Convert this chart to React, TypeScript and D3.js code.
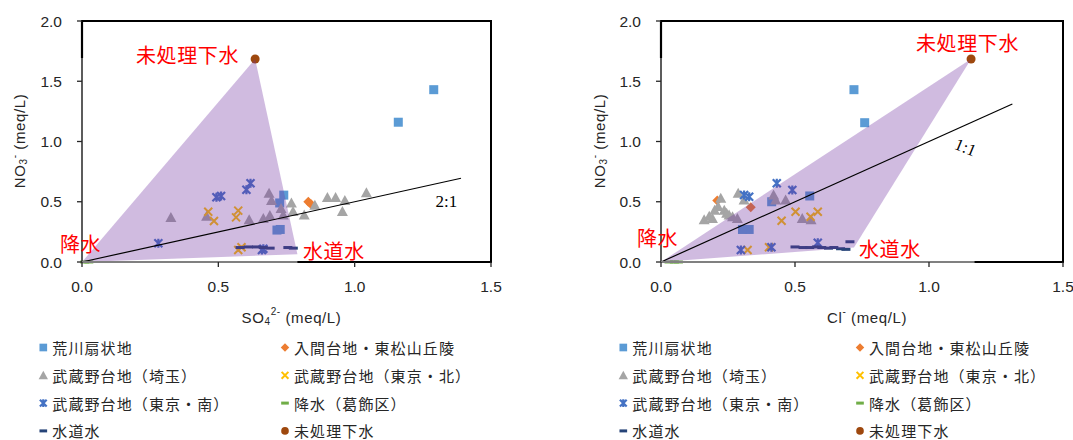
import React from "react";
import * as d3 from "d3";

// ---------- data ----------
const xTicks = [0, 0.5, 1.0, 1.5];
const yTicks = [0, 0.5, 1.0, 1.5, 2.0];

// [x, NO3] pairs; SO4 chart and Cl chart
const arakawaSO4 = [[1.29, 1.43], [1.16, 1.16], [0.74, 0.555], [0.725, 0.49], [0.727, 0.27], [0.715, 0.265]];
const arakawaCl = [[0.72, 1.43], [0.76, 1.156], [0.555, 0.548], [0.413, 0.5], [0.329, 0.27], [0.304, 0.27]];

const irumaSO4 = [[0.83, 0.5], [0.84, 0.48]];
const irumaCl = [[0.335, 0.455], [0.21, 0.51]];

const saitamaSO4 = [[0.326, 0.37], [0.457, 0.38], [0.613, 0.35], [0.665, 0.36], [0.689, 0.385], [0.686, 0.57], [0.695, 0.51], [0.73, 0.445], [0.738, 0.39], [0.768, 0.49], [0.774, 0.42], [0.815, 0.39], [0.854, 0.47], [0.9, 0.535], [0.93, 0.535], [0.964, 0.51], [0.955, 0.42], [1.043, 0.575]];
const saitamaCl = [[0.161, 0.35], [0.192, 0.36], [0.223, 0.53], [0.213, 0.46], [0.236, 0.43], [0.254, 0.39], [0.267, 0.376], [0.285, 0.36], [0.288, 0.57], [0.31, 0.515], [0.42, 0.556], [0.428, 0.515], [0.465, 0.515], [0.527, 0.36], [0.56, 0.35], [0.2, 0.43], [0.245, 0.405], [0.18, 0.38]];

const northSO4 = [[0.463, 0.417], [0.484, 0.34], [0.573, 0.426], [0.565, 0.37], [0.573, 0.1], [0.585, 0.122]];
const northCl = [[0.323, 0.1], [0.403, 0.122], [0.45, 0.343], [0.502, 0.417], [0.558, 0.376], [0.585, 0.417]];

const southSO4 = [[0.28, 0.155], [0.493, 0.538], [0.51, 0.548], [0.603, 0.6], [0.618, 0.653], [0.66, 0.1], [0.665, 0.11]];
const southCl = [[0.432, 0.653], [0.49, 0.598], [0.31, 0.556], [0.329, 0.542], [0.298, 0.1], [0.412, 0.122], [0.585, 0.16]];

const rainSO4 = [[0.01, 0.0], [0.025, 0.0]];
const rainCl = [[0.03, 0.0], [0.05, 0.0], [0.065, 0.0]];

const tapSO4 = [[0.58, 0.12], [0.61, 0.125], [0.64, 0.125], [0.665, 0.12], [0.69, 0.115], [0.755, 0.12], [0.775, 0.115]];
const tapCl = [[0.5, 0.125], [0.53, 0.12], [0.555, 0.12], [0.58, 0.125], [0.6, 0.12], [0.625, 0.115], [0.645, 0.12], [0.67, 0.11], [0.69, 0.105], [0.705, 0.168]];

const sewageSO4 = [[0.635, 1.685]];
const sewageCl = [[1.157, 1.685]];

const mixSO4 = [[0, 0], [0.635, 1.685], [0.79, 0.065]];
const mixCl = [[0, 0], [1.157, 1.685], [0.72, 0.12]];

const ratioLineSO4 = [[0, 0], [1.39, 0.695]];
const ratioLineCl = [[0, 0], [1.311, 1.311]];

const seriesNames = ["荒川扇状地", "入間台地・東松山丘陵", "武蔵野台地（埼玉）", "武蔵野台地（東京・北）", "武蔵野台地（東京・南）", "降水（葛飾区）", "水道水", "未処理下水"];
const seriesColors = ["#5b9bd5", "#ed7d31", "#a5a5a5", "#ffc000", "#4472c4", "#70ad47", "#264478", "#9e480e"];
const seriesShapes = ["square", "diamond", "triangle", "x", "star", "dash", "dash", "circle"];

const CJK = "'Noto Sans CJK JP', 'Noto Sans', sans-serif";
const SANS = "'Liberation Sans', Arial, sans-serif";

function Marker({ shape, color, x, y, s = 1 }: any) {
  switch (shape) {
    case "square":
      return <rect x={x - 4.5 * s} y={y - 4.5 * s} width={9 * s} height={9 * s} fill={color} />;
    case "diamond":
      return <path d={`M${x},${y - 5 * s}L${x + 5 * s},${y}L${x},${y + 5 * s}L${x - 5 * s},${y}Z`} fill={color} />;
    case "triangle":
      return <path d={`M${x},${y - 5.5 * s}L${x + 5.5 * s},${y + 4.5 * s}L${x - 5.5 * s},${y + 4.5 * s}Z`} fill={color} />;
    case "x":
      return <path d={`M${x - 4 * s},${y - 4 * s}L${x + 4 * s},${y + 4 * s}M${x + 4 * s},${y - 4 * s}L${x - 4 * s},${y + 4 * s}`} stroke={color} strokeWidth={2} fill="none" />;
    case "star":
      return <path d={`M${x - 4 * s},${y - 4 * s}L${x + 4 * s},${y + 4 * s}M${x + 4 * s},${y - 4 * s}L${x - 4 * s},${y + 4 * s}M${x},${y - 4.5 * s}L${x},${y + 4.5 * s}`} stroke={color} strokeWidth={2.2} fill="none" />;
    case "dash":
      return <rect x={x - 4.5 * s} y={y - 1.5} width={9 * s} height={3} fill={color} />;
    case "circle":
      return <circle cx={x} cy={y} r={4.5 * s} fill={color} />;
  }
  return null;
}

function Panel({ x0, x1, series, mix, ratioLine, ratioLabel, ratioPos, ratioRot, labels, blackBottomFrom, xTitle, yTitleX, legendX }: any) {
  const xs = d3.scaleLinear().domain([0, 1.5]).range([x0, x1]);
  const ys = d3.scaleLinear().domain([0, 2]).range([262, 21]);
  const line = d3.line().x((d: any) => xs(d[0])).y((d: any) => ys(d[1]));
  const poly = line(mix) + "Z";
  return (
    <g>
      {/* points */}
      {series.map((pts: any, i: number) =>
        pts.map((p: any, j: number) => (
          <Marker key={i + "-" + j} shape={seriesShapes[i]} color={seriesColors[i]} x={xs(p[0])} y={ys(p[1])} />
        ))
      )}
      {/* mixing polygon */}
      <path d={poly} fill="#7030a0" fillOpacity={0.33} />
      {/* ratio line */}
      <path d={line(ratioLine) as string} stroke="#000" strokeWidth={1.2} fill="none" />
      <text x={xs(ratioPos[0])} y={ys(ratioPos[1])} fontFamily="'Liberation Serif', 'Times New Roman', serif" fontSize={17} textAnchor="middle" dominantBaseline="central" transform={`rotate(${ratioRot},${xs(ratioPos[0])},${ys(ratioPos[1])})`}>{ratioLabel}</text>
      {/* axes */}
      <line x1={x0} x2={x0} y1={21} y2={262} stroke="#262626" strokeWidth={1.5} />
      <line x1={x0} x2={x0} y1={21} y2={58} stroke="#000" strokeWidth={2.2} />
      <line x1={x0} x2={x1} y1={262} y2={262} stroke="#808080" strokeWidth={2} />
      <line x1={xs(blackBottomFrom)} x2={x1 + 1} y1={262} y2={262} stroke="#000" strokeWidth={2} />
      <line x1={x0 - 1} x2={x1 + 1} y1={21} y2={21} stroke="#000" strokeWidth={2} />
      <line x1={x1} x2={x1} y1={21} y2={262} stroke="#000" strokeWidth={2} />
      {yTicks.map((t) => (
        <g key={"y" + t}>
          <line x1={x0 - 5} x2={x0} y1={ys(t)} y2={ys(t)} stroke="#262626" strokeWidth={1.3} />
          <text x={x0 - 20} y={ys(t)} textAnchor="end" dominantBaseline="central" fontFamily={SANS} fontSize={15.5} fill="#262626">{t.toFixed(1)}</text>
        </g>
      ))}
      {xTicks.map((t) => (
        <g key={"x" + t}>
          <line x1={xs(t)} x2={xs(t)} y1={262} y2={267} stroke="#262626" strokeWidth={1.3} />
          <text x={xs(t)} y={286} textAnchor="middle" dominantBaseline="central" fontFamily={SANS} fontSize={15.5} fill="#262626">{t.toFixed(1)}</text>
        </g>
      ))}
      {/* axis titles */}
      <text x={(x0 + x1) / 2 + 5} y={317} textAnchor="middle" dominantBaseline="central" fontFamily={SANS} fontSize={15} letterSpacing={0.6} fill="#262626">{xTitle}</text>
      <text transform={`translate(${yTitleX},141) rotate(-90)`} textAnchor="middle" dominantBaseline="central" fontFamily={SANS} fontSize={15} letterSpacing={0.6} fill="#262626">
        NO<tspan fontSize={10} dy={4}>3</tspan><tspan fontSize={10} dy={-9}>-</tspan><tspan dy={5}> (meq/L)</tspan>
      </text>
      {/* red labels */}
      {labels.map((l: any) => (
        <text key={l.t} x={l.x} y={l.y} dominantBaseline="central" fontFamily={CJK} fontSize={20} letterSpacing={0.6} fill="#ff0000">{l.t}</text>
      ))}
      {/* legend */}
      {seriesNames.map((n, i) => {
        const col = i % 2;
        const row = Math.floor(i / 2);
        const mx = legendX[col];
        const cy = 347.5 + row * 27.8;
        return (
          <g key={n}>
            <Marker shape={seriesShapes[i]} color={seriesColors[i]} x={mx} y={cy} s={0.85} />
            <text x={mx + 9} y={cy} dominantBaseline="central" fontFamily={CJK} fontSize={15} letterSpacing={1.1} fill="#262626">{n}</text>
          </g>
        );
      })}
    </g>
  );
}

export default function App() {
  return (
    <svg width={1073} height={440} style={{ position: "absolute", left: 0, top: 0, background: "#fff" }}>
      <rect width={1073} height={440} fill="#fff" />
      <Panel
        x0={82}
        x1={491}
        series={[arakawaSO4, irumaSO4, saitamaSO4, northSO4, southSO4, rainSO4, tapSO4, sewageSO4]}
        mix={mixSO4}
        ratioLine={ratioLineSO4}
        ratioLabel="2:1"
        ratioPos={[1.336, 0.5]}
        ratioRot={0}
        labels={[{ t: "未処理下水", x: 136, y: 54 }, { t: "降水", x: 60, y: 243 }, { t: "水道水", x: 303, y: 250 }]}
        blackBottomFrom={0.79}
        xTitle={<>SO<tspan fontSize={10} dy={4}>4</tspan><tspan fontSize={10} dy={-10}>2-</tspan><tspan dy={6}> (meq/L)</tspan></>}
        yTitleX={19}
        legendX={[43.3, 285]}
      />
      <Panel
        x0={661}
        x1={1063}
        series={[arakawaCl, irumaCl, saitamaCl, northCl, southCl, rainCl, tapCl, sewageCl]}
        mix={mixCl}
        ratioLine={ratioLineCl}
        ratioLabel="1:1"
        ratioPos={[1.136, 0.95]}
        ratioRot={22}
        labels={[{ t: "未処理下水", x: 916, y: 42 }, { t: "降水", x: 637, y: 237 }, { t: "水道水", x: 859, y: 248 }]}
        blackBottomFrom={1.17}
        xTitle={<>Cl<tspan fontSize={10} dy={-6}>-</tspan><tspan dy={6}> (meq/L)</tspan></>}
        yTitleX={599}
        legendX={[623.3, 860]}
      />
    </svg>
  );
}
